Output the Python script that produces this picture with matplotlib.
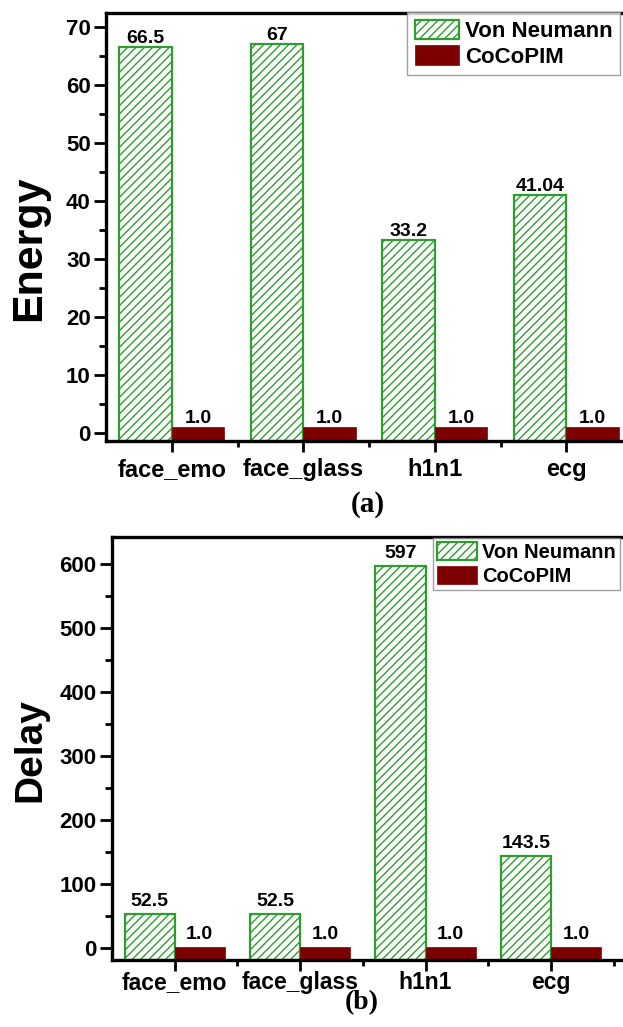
import matplotlib
matplotlib.use("Agg")
import matplotlib.pyplot as plt
import numpy as np

categories = ["face_emo", "face_glass", "h1n1", "ecg"]
energy_vn = [66.5, 67, 33.2, 41.04]
energy_cc = [1.0, 1.0, 1.0, 1.0]
energy_vn_labels = ["66.5", "67", "33.2", "41.04"]
energy_cc_labels = ["1.0", "1.0", "1.0", "1.0"]
delay_vn = [52.5, 52.5, 597, 143.5]
delay_cc = [1.0, 1.0, 1.0, 1.0]
delay_vn_labels = ["52.5", "52.5", "597", "143.5"]
delay_cc_labels = ["1.0", "1.0", "1.0", "1.0"]
series_names = ["Von Neumann", "CoCoPIM"]

plt.rcParams['font.family'] = ['Liberation Sans', 'DejaVu Sans']
plt.rcParams['font.weight'] = 'bold'
plt.rcParams['hatch.linewidth'] = 1.0

W, H = 623, 1027
fig = plt.figure(figsize=(W / 100, H / 100), dpi=100)

GREEN = '#2e9e2e'
RED = '#7d0000'


def px_axes(l, r, t, b):
    return fig.add_axes([l / W, 1 - b / H, (r - l) / W, (b - t) / H])


def draw_panel(ax, vn, cc, vn_lab, cc_lab, ylim, xlim, yticks, yminor, lab_pad, xpad, xfs):
    x = np.arange(1, len(categories) + 1)
    w = 0.4
    base = ylim[0]  # bars start at the bottom of the axis, as in the original
    b1 = ax.bar(x - w / 2, np.asarray(vn) - base, bottom=base, width=w,
                facecolor='white', edgecolor=GREEN, hatch='////', linewidth=1.6,
                label=series_names[0], zorder=2)
    b2 = ax.bar(x + w / 2, np.asarray(cc) - base, bottom=base, width=w,
                color=RED, edgecolor=RED, linewidth=0.5,
                label=series_names[1], zorder=2)
    ax.bar_label(b1, labels=vn_lab, padding=lab_pad, fontsize=14, fontweight='bold')
    ax.bar_label(b2, labels=cc_lab, padding=lab_pad, fontsize=14, fontweight='bold')
    ax.set_xlim(*xlim)
    ax.set_ylim(*ylim)
    ax.set_xticks(x)
    ax.set_xticklabels(categories, fontsize=xfs, fontweight='bold')
    ax.set_xticks(x + 0.5, minor=True)
    ax.set_yticks(yticks)
    ax.set_yticks(yminor, minor=True)
    ax.tick_params(axis='y', which='major', length=9, width=2, labelsize=16, pad=2)
    ax.tick_params(axis='y', which='minor', length=5, width=2)
    ax.tick_params(axis='x', which='major', length=8, width=2, pad=xpad)
    ax.tick_params(axis='x', which='minor', length=4, width=2)
    for s in ax.spines.values():
        s.set_linewidth(2.4)
    return b1, b2


# Top panel (Energy)
ax1 = px_axes(106, 632, 13, 441)
draw_panel(ax1, energy_vn, energy_cc, energy_vn_labels, energy_cc_labels,
           (-1.4, 72.4), (0.5, 4.5), np.arange(0, 71, 10), np.arange(5, 71, 10), 0, 4, 17)
leg1 = ax1.legend(loc='upper left', bbox_to_anchor=(407 / W, 1 - 12 / H),
                  bbox_transform=fig.transFigure, borderaxespad=0,
                  fontsize=16, frameon=True, fancybox=False, edgecolor='#888888',
                  handlelength=2.0, handleheight=0.95, handletextpad=0.25,
                  labelspacing=0.15, borderpad=0.35)
leg1.get_frame().set_linewidth(1.0)
fig.text(29 / W, 1 - 248 / H, "Energy", rotation=90, fontsize=31, fontweight='bold',
         ha='center', va='center')
fig.text(368 / W, 1 - 504 / H, "(a)", fontsize=21, fontweight='bold',
         family=['Liberation Serif', 'DejaVu Serif'], ha='center', va='center')

# Bottom panel (Delay)
ax2 = px_axes(112, 630, 537, 960)
draw_panel(ax2, delay_vn, delay_cc, delay_vn_labels, delay_cc_labels,
           (-19, 642), (0.5, 4.63), np.arange(0, 601, 100), np.arange(50, 601, 100), 3, 0, 16.5)
leg2 = ax2.legend(loc='upper left', bbox_to_anchor=(433 / W, 1 - 538 / H),
                  bbox_transform=fig.transFigure, borderaxespad=0,
                  fontsize=14.5, frameon=True, fancybox=False, edgecolor='#888888',
                  handlelength=2.0, handleheight=1.0, handletextpad=0.25,
                  labelspacing=0.2, borderpad=0.2)
leg2.get_frame().set_linewidth(1.0)
fig.text(30 / W, 1 - 750 / H, "Delay", rotation=90, fontsize=28, fontweight='bold',
         ha='center', va='center')
fig.text(362 / W, 1 - 1003 / H, "(b)", fontsize=20, fontweight='bold',
         family=['Liberation Serif', 'DejaVu Serif'], ha='center', va='center')

fig.savefig("out.png", dpi=100)
